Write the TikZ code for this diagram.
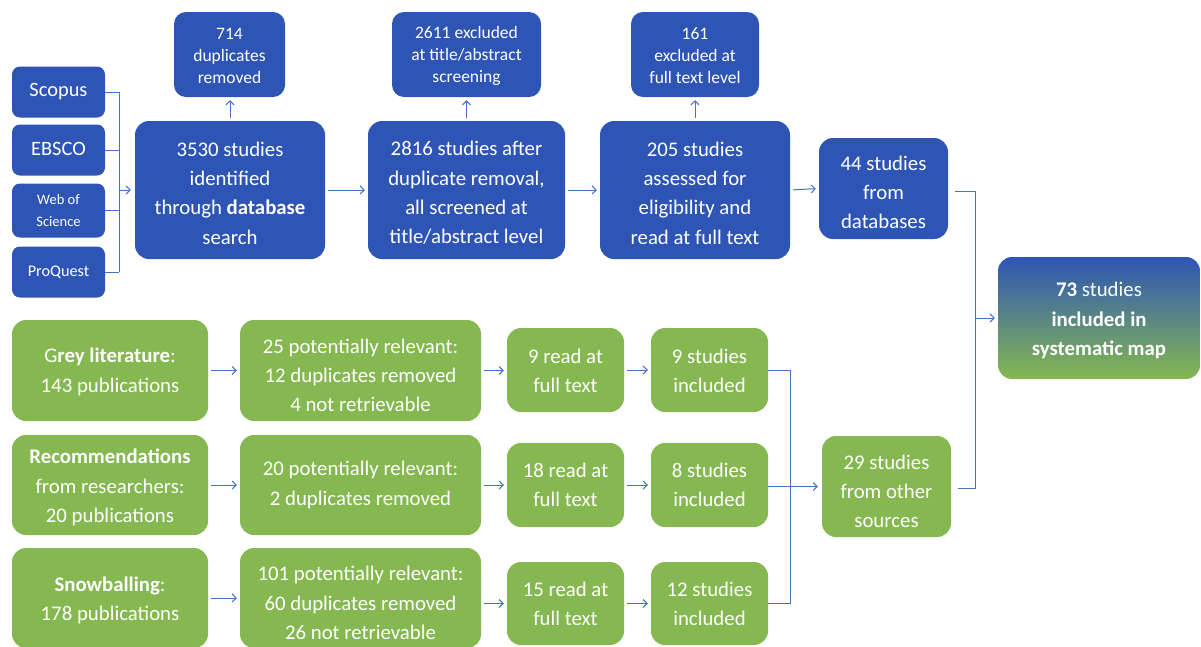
\documentclass[tikz,border=0pt]{standalone}
\usepackage{fontspec}
\setmainfont{Carlito}
\usetikzlibrary{arrows.meta}
\definecolor{bboxc}{HTML}{2E55B5}
\definecolor{gboxc}{HTML}{85B850}
\definecolor{linec}{HTML}{4472C4}
\tikzset{
  base/.style={rounded corners=14pt, inner sep=0pt},
  bbox/.style={base, fill=bboxc},
  gbox/.style={base, fill=gboxc},
  sbox/.style={bbox, rounded corners=12pt},
  srcbox/.style={bbox, rounded corners=8pt},
  fbox/.style={base, top color=bboxc, bottom color=gboxc},
  txt/.style={text=white, align=center, inner sep=0pt, font=\fontsize{20.8}{29.3}\selectfont},
  stxt/.style={txt, font=\fontsize{17.5}{22}\selectfont},
  conn/.style={draw=linec, line width=1pt},
  arr/.style={conn, -{Straight Barb[length=4pt,width=8pt]}},
  gap/.style={shorten <=3pt, shorten >=3pt},
}
% name, box style, text style, width, height, centre, text shift, text
\newcommand\bx[8]{%
  \node[#2, minimum width=#4pt, minimum height=#5pt] (#1) at (#6) {};
  \node[#3] (#1-t) at ([yshift=#7]#1.center) {#8};}
\begin{document}
\begin{tikzpicture}[x=1pt,y=-1pt]
\useasboundingbox (0,0) rectangle (1201,646);
\clip (0,0) rectangle (1201,646);
\fill[white] (0,0) rectangle (1201,646);

% sources
\bx{scopus}{srcbox}{txt, font=\fontsize{20.4}{24}\selectfont}{93}{51}{58.5,92}{0pt}{Scopus}
\bx{ebsco}{srcbox}{txt, font=\fontsize{20.4}{24}\selectfont}{93}{51}{58.5,150}{1.5pt}{EBSCO}
\bx{wos}{srcbox}{txt, font=\fontsize{14.5}{22}\selectfont}{93}{54}{58.5,210.5}{0pt}{Web of\\Science}
\bx{proquest}{srcbox}{txt, font=\fontsize{16.2}{22}\selectfont}{93}{51}{58.5,272}{0pt}{ProQuest}

% database row
\bx{db}{bbox}{txt}{190}{138}{230,190}{-3pt}
  {3530 studies\\identified\\through \textbf{database}\\search}
\bx{dup}{sbox}{stxt}{111}{85}{229.5,54.5}{-1.5pt}
  {714\\duplicates\\removed}
\bx{scr}{bbox}{txt}{197}{138}{466.5,190}{-3pt}
  {2816 studies after\\duplicate removal,\\all screened at\\title/abstract level}
\bx{ex1}{sbox}{stxt}{149}{85}{466.5,54.5}{-1pt}
  {2611 excluded\\at title/abstract\\screening}
\bx{full}{bbox}{txt}{190}{138}{695,190}{-3pt}
  {205 studies\\assessed for\\eligibility and\\read at full text}
\bx{ex2}{sbox}{stxt}{128}{85}{695,54.5}{-1pt}
  {161\\excluded at\\full text level}
\bx{fromdb}{bbox}{txt}{129}{101}{883.5,188.5}{-4pt}
  {44 studies\\from\\databases}

% final
\bx{final}{fbox}{txt}{202}{122}{1099,318}{-2.5pt}
  {\textbf{73} studies\\\textbf{included in}\\\textbf{systematic map}}

% green rows
\bx{grey}{gbox}{txt}{196}{101}{110,370.5}{-1.5pt}
  {G\textbf{rey literature}:\\143 publications}
\bx{grey2}{gbox}{txt}{241}{101}{360.5,370.5}{-5pt}
  {25 potentially relevant:\\12 duplicates removed\\4 not retrievable}
\bx{read1}{gbox}{txt}{117}{84}{565.5,370}{-0.5pt}
  {9 read at\\full text}
\bx{inc1}{gbox}{txt}{117}{84}{709.5,370}{-0.5pt}
  {9 studies\\included}

\node[gbox, minimum width=196pt, minimum height=100pt] (rec) at (110,485) {};
\begin{scope}
  \clip (rec.north west) rectangle (rec.east |- 0,525);
  \node[txt] (rec-t) at ([yshift=-2.5pt]rec.center)
    {\textbf{Recommendations}\\from researchers:\\20 publications};
\end{scope}
\bx{rec2}{gbox}{txt}{241}{100}{360.5,485}{0pt}
  {20 potentially relevant:\\2 duplicates removed}
\bx{read2}{gbox}{txt}{117}{84}{565.5,485}{0pt}
  {18 read at\\full text}
\bx{inc2}{gbox}{txt}{117}{84}{709.5,485}{0pt}
  {8 studies\\included}

\bx{snow}{gbox}{txt}{196}{100}{110,598}{-2.5pt}
  {\textbf{Snowballing}:\\178 publications}
\bx{snow2}{gbox}{txt}{241}{100}{360.5,598}{-5pt}
  {101 potentially relevant:\\60 duplicates removed\\26 not retrievable}
\bx{read3}{gbox}{txt}{117}{83}{565.5,603.5}{0pt}
  {15 read at\\full text}
\bx{inc3}{gbox}{txt}{117}{83}{709.5,603.5}{0pt}
  {12 studies\\included}

\bx{other}{gbox}{txt}{129}{101}{886.5,486.5}{-5pt}
  {29 studies\\from other\\sources}

% connectors: sources bracket
\coordinate (b1t) at (119,92);
\coordinate (b1b) at (119,272);
\draw[conn] (scopus.east) -- (scopus.east -| b1t);
\draw[conn] (ebsco.east) -- (ebsco.east -| b1t);
\draw[conn] (wos.east) -- (wos.east -| b1t);
\draw[conn] (proquest.east) -- (proquest.east -| b1t);
\draw[conn] (b1t) -- (b1b);
\draw[arr, shorten >=4pt] (b1t |- db.west) -- (db.west);

% top row arrows
\draw[arr, gap] (db.east) -- (scr.west);
\draw[arr, gap] (scr.east) -- (full.west);
\draw[arr, gap] (full.east) -- (fromdb.west);
\draw[arr, gap] (db.north) -- (db.north |- dup.south);
\draw[arr, gap] (scr.north) -- (scr.north |- ex1.south);
\draw[arr, gap] (full.north) -- (full.north |- ex2.south);

% green row arrows
\draw[arr, gap] (grey.east) -- (grey2.west);
\draw[arr, gap] (grey2.east) -- (grey2.east -| read1.west);
\draw[arr, gap] (read1.east) -- (inc1.west);
\draw[arr, gap] (rec.east) -- (rec2.west);
\draw[arr, gap] (rec2.east) -- (read2.west);
\draw[arr, gap] (read2.east) -- (inc2.west);
\draw[arr, gap] (snow.east) -- (snow2.west);
\draw[arr, gap] (snow2.east |- read3.west) -- (read3.west);
\draw[arr, gap] (read3.east) -- (inc3.west);

% green bracket
\coordinate (b2t) at (790,370);
\coordinate (b2b) at (790,603.5);
\draw[conn] (inc1.east) -- (b2t) -- (b2b) -- (inc3.east);
\draw[arr, shorten >=4pt] (inc2.east |- other.west) -- (other.west);

% final bracket
\coordinate (b3t) at (975,191);
\coordinate (b3b) at (975,488);
\draw[conn, shorten <=7pt] (fromdb.east |- b3t) -- (b3t) -- (b3b) -- ([xshift=7pt]other.east |- b3b);
\draw[arr, shorten >=3pt] (b3t |- final.west) -- (final.west);
\end{tikzpicture}
\end{document}
